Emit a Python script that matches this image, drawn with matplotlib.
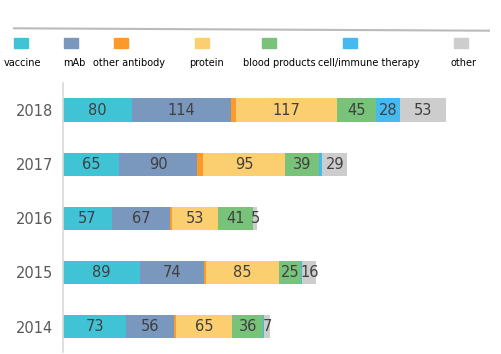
import matplotlib
matplotlib.use("Agg")
import matplotlib.pyplot as plt
from matplotlib.patches import Rectangle
from matplotlib.lines import Line2D

years = ["2014", "2015", "2016", "2017", "2018"]
series = ["vaccine", "mAb", "other antibody", "protein", "blood products",
          "cell/immune therapy", "other"]
vaccine = [73, 89, 57, 65, 80]
mab = [56, 74, 67, 90, 114]
other_antibody = [2, 2, 2, 7, 6]
protein = [65, 85, 53, 95, 117]
blood_products = [36, 25, 41, 39, 45]
cell_immune = [1, 2, 0, 4, 28]
other = [7, 16, 5, 29, 53]
values = [vaccine, mab, other_antibody, protein, blood_products, cell_immune, other]
colors = ["#41C3D6", "#7A97BD", "#FB9A2B", "#FBCF6F", "#78C27A", "#45BAF0", "#CDCDCD"]
labelled = [True, True, False, True, True, True, True]

fig = plt.figure(figsize=(5.02, 3.54), dpi=100)
W, H = 502, 354
ax = fig.add_axes([63 / W, 2 / H, 432 / W, (352 - 83) / H])

left = [0] * len(years)
ypos = list(range(len(years)))
for vals, col, name, lab in zip(values, colors, series, labelled):
    ax.barh(ypos, vals, left=left, height=0.43, color=col, label=name)
    for y, v, l in zip(ypos, vals, left):
        if lab and v >= 5:
            ax.text(l + v / 2, y, str(v), ha="center", va="center",
                    fontsize=10.5, color="#404040")
    left = [a + b for a, b in zip(left, vals)]

ax.set_xlim(0, 500)
ax.set_ylim(-0.47, 4.5)
ax.set_yticks(ypos)
ax.set_yticklabels(years, fontsize=10.5, color="#595959")
ax.tick_params(axis="y", length=0, pad=7)
ax.set_xticks([])
for s in ["top", "right", "bottom"]:
    ax.spines[s].set_visible(False)
ax.spines["left"].set_color("#D9D9D9")
ax.spines["left"].set_linewidth(1.2)

# top separator line
fig.add_artist(Line2D([14 / W, 489 / W], [1 - 28.3 / H, 1 - 30.7 / H],
                      color="#BBBBBB", lw=1.5, transform=fig.transFigure))

# legend
marker_x = [14, 64, 114, 195, 262, 343, 454]
label_x = [22, 74, 129, 207, 279, 369, 464]
for mx, lx, col, name in zip(marker_x, label_x, colors, series):
    fig.add_artist(Rectangle((mx / W, 1 - 48 / H), 14 / W, 10 / H,
                             color=col, transform=fig.transFigure))
    fig.text(lx / W, 1 - 63 / H, name, ha="center", va="center",
             fontsize=7, color="#000000", family="DejaVu Sans")

fig.savefig("out.png", dpi=100)
